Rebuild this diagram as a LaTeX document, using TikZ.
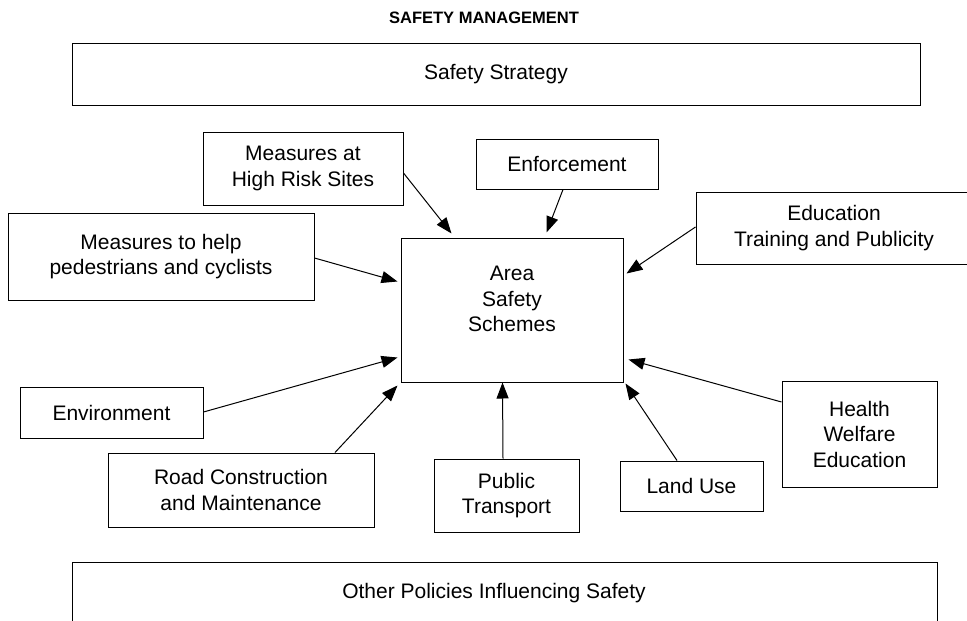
\documentclass[tikz,border=0pt]{standalone}
\usepackage{fontspec}
\setmainfont{Liberation Sans}
\usetikzlibrary{arrows.meta,calc}
\begin{document}
\begin{tikzpicture}[x=1pt,y=-1pt,
  box/.style={draw, line width=1pt, inner sep=0pt, align=center,
    font=\fontsize{21}{25.5}\selectfont},
  txt/.style={inner sep=0pt, align=center, font=\fontsize{21}{25.5}\selectfont},
  arr/.style={line width=1pt, -{Triangle[length=16pt,width=12pt]}}]
\useasboundingbox (0,0) rectangle (967,621);
\fill[white] (0,0) rectangle (967,621);
\clip (0,0) rectangle (967,621);

\node[inner sep=0pt, font=\bfseries\fontsize{16.5}{20}\selectfont] (title) at (484,18) {SAFETY MANAGEMENT};

\node[box, minimum width=848, minimum height=62] (ss) at (496,74) {Safety Strategy};

\node[box, minimum width=200, minimum height=73] (hr) at (303,168.5) {Measures at\\High Risk Sites};
\node[box, minimum width=182, minimum height=50] (enf) at (567,164) {Enforcement};
\node[box, minimum width=276, minimum height=72] (edu) at (834,228) {Education\\Training and Publicity};
\node[box, minimum width=306, minimum height=87] (mh) at (161,256.5) {Measures to help\\pedestrians and cyclists};

\node[draw, line width=1pt, minimum width=222, minimum height=144, inner sep=0pt] (area) at (512,310) {};
\node[txt] (areatxt) at (512,299) {Area\\Safety\\Schemes};

\node[box, minimum width=183, minimum height=51] (env) at (111.5,412.5) {Environment};
\node[box, minimum width=266, minimum height=74] (road) at (241,490) {Road Construction\\and Maintenance};
\node[box, minimum width=145, minimum height=73] (pt) at (506.5,495.5) {Public\\Transport};
\node[box, minimum width=143, minimum height=50] (lu) at (691.5,486) {Land Use};
\node[box, minimum width=155, minimum height=106] (hw) at (859.5,434) {Health\\Welfare\\Education};

\node[draw, line width=1pt, minimum width=865, minimum height=63, inner sep=0pt] (op) at (504.5,593.5) {};
\node[txt] (optxt) at (494,593) {Other Policies Influencing Safety};

\draw[arr] ($(hr.east)+(0,4.5)$) -- ($(area.north west)+(51,-4)$);
\draw[arr] ($(enf.south)+(-4,0)$) -- ($(area.north west)+(146,-5)$);
\draw[arr] ($(edu.west)+(0,-1)$) -- ($(area.north east)+(3,36)$);
\draw[arr] ($(mh.east)+(0,1.5)$) -- ($(area.north west)+(-3,44)$);
\draw[arr] ($(env.east)+(0,-0.5)$) -- ($(area.south west)+(-3,-25)$);
\draw[arr] ($(road.north)+(94,0)$) -- ($(area.south west)+(-3,3)$);
\draw[arr] ($(pt.north)+(-3.5,0)$) -- ($(area.south west)+(102,0)$);
\draw[arr] ($(lu.north)+(-14.5,0)$) -- ($(area.south east)+(2,1)$);
\draw[arr] ($(hw.west)+(0,-32)$) -- ($(area.south east)+(5,-23)$);
\end{tikzpicture}
\end{document}
